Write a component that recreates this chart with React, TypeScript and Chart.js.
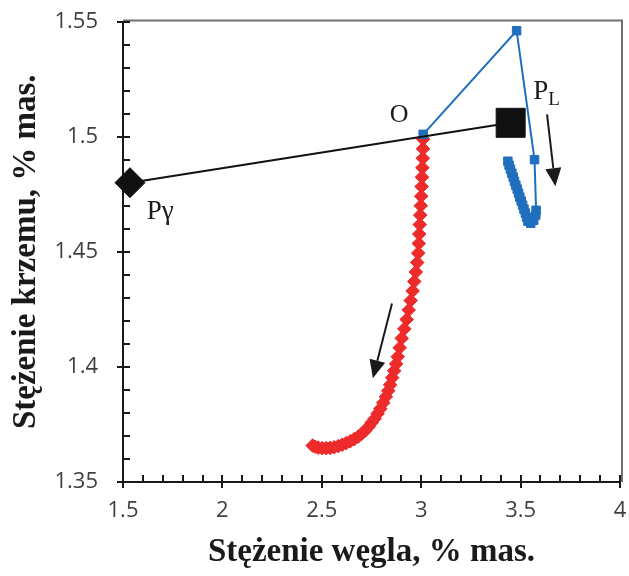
import React, { useEffect, useRef } from 'react';
import { Chart, registerables } from 'chart.js';

Chart.register(...registerables);

// ---- axis ticks ----
const xTickValues = [1.5, 2, 2.5, 3, 3.5, 4];
const yTickValues = [1.35, 1.4, 1.45, 1.5, 1.55];

// ---- black tie-line: P-gamma -> P (square) ----
const tieX = [1.535, 3.45];
const tieY = [1.48, 1.506];

// ---- blue series (liquid path) ----
const blueX = [3.01, 3.48, 3.57, 3.578, 3.576, 3.566, 3.551, 3.537, 3.530, 3.524, 3.517, 3.510, 3.503, 3.496, 3.490, 3.483, 3.476, 3.469, 3.463, 3.456, 3.449, 3.442, 3.436];
const blueY = [1.501, 1.546, 1.490, 1.468, 1.4659, 1.4637, 1.4624, 1.4633, 1.4650, 1.4668, 1.4685, 1.4702, 1.4720, 1.4737, 1.4754, 1.4772, 1.4789, 1.4806, 1.4824, 1.4841, 1.4858, 1.4876, 1.4893];

// ---- red series (austenite path) ----
const redX = [3.010, 3.009, 3.008, 3.006, 3.004, 3.002, 3.000, 2.998, 2.995, 2.993, 2.990, 2.988, 2.985, 2.980, 2.973, 2.965, 2.957, 2.947, 2.937, 2.927, 2.915, 2.902,
  2.892, 2.882, 2.874, 2.864, 2.854, 2.844, 2.834, 2.822, 2.809, 2.794, 2.781, 2.766, 2.751, 2.736, 2.718, 2.701, 2.683, 2.663, 2.643, 2.623, 2.603, 2.583, 2.562, 2.542, 2.522, 2.502, 2.482, 2.467, 2.454];
const redY = [1.4989, 1.4947, 1.4906, 1.4865, 1.4824, 1.4783, 1.4741, 1.4700, 1.4659, 1.4618, 1.4577, 1.4536, 1.4494, 1.4453, 1.4412, 1.4371, 1.4330, 1.4288, 1.4247, 1.4206, 1.4165, 1.4124,
  1.4083, 1.4044, 1.4013, 1.3983, 1.3953, 1.3922, 1.3896, 1.3870, 1.3844, 1.3818, 1.3797, 1.3775, 1.3758, 1.3740, 1.3723, 1.3710, 1.3697, 1.3686, 1.3677, 1.3669, 1.3662, 1.3656, 1.3651, 1.3648, 1.3647, 1.3647, 1.3649, 1.3653, 1.3658];

// ---- annotations (data coordinates) ----
const labelO = { text: 'O', x: 2.889, y: 1.5093 };
const labelPL = { main: 'P', sub: 'L', x: 3.564, y: 1.5162 };
const labelPg = { text: 'Pγ', x: 1.62, y: 1.4642 };
const arrowPL = { x1: 3.633, y1: 1.5097, x2: 3.675, y2: 1.4785 };
const arrowRed = { x1: 2.853, y1: 1.4275, x2: 2.757, y2: 1.3951 };

const xTitle = 'Stężenie węgla, % mas.';
const yTitle = 'Stężenie krzemu, % mas.';

const RIGHT_GAP = 9;

const toPts = (xs: number[], ys: number[]) => xs.map((x, i) => ({ x, y: ys[i] }));
const fmt = (v: number) => String(Math.round(Number(v) * 100) / 100);

const decorPlugin = {
  id: 'decor',
  afterLayout(chart: any) {
    const a = chart.chartArea;
    const target = chart.width - RIGHT_GAP;
    if (Math.abs(a.right - target) > 0.5) {
      a.right = target;
      a.width = a.right - a.left;
      const x = chart.scales.x;
      x.right = target;
      x.width = x.right - x.left;
      x.configure();
    }
  },
  beforeDatasetsDraw(chart: any) {
    const { ctx, chartArea: a, scales } = chart;
    const x = scales.x;
    const y = scales.y;
    ctx.save();
    // frame (top & right)
    ctx.strokeStyle = '#707070';
    ctx.lineWidth = 2;
    ctx.beginPath();
    ctx.moveTo(a.left, a.top - 1);
    ctx.lineTo(a.right + 2, a.top - 1);
    ctx.lineTo(a.right + 2, a.bottom);
    ctx.stroke();
    // axes
    ctx.strokeStyle = '#1a1a1a';
    ctx.lineWidth = 2;
    ctx.beginPath();
    ctx.moveTo(a.left, a.top);
    ctx.lineTo(a.left, a.bottom);
    ctx.lineTo(a.right, a.bottom);
    // x ticks (minor 0.1, major 0.5)
    for (let i = 0; i <= 25; i++) {
      const px = Math.round(x.getPixelForValue(1.5 + i * 0.1));
      const major = i % 5 === 0;
      ctx.moveTo(px, a.bottom - 7);
      ctx.lineTo(px, major ? a.bottom + 6 : a.bottom);
    }
    // y ticks (minor 0.01, major 0.05)
    for (let i = 0; i <= 20; i++) {
      const py = Math.round(y.getPixelForValue(1.35 + i * 0.01));
      const major = i % 5 === 0;
      ctx.moveTo(a.left + 7, py);
      ctx.lineTo(major ? a.left - 6 : a.left, py);
    }
    ctx.stroke();
    ctx.restore();
  },
  afterDatasetsDraw(chart: any) {
    const { ctx, scales } = chart;
    const x = scales.x;
    const y = scales.y;
    ctx.save();
    const arrow = (ar: any) => {
      const x1 = x.getPixelForValue(ar.x1), y1 = y.getPixelForValue(ar.y1);
      const x2 = x.getPixelForValue(ar.x2), y2 = y.getPixelForValue(ar.y2);
      const ang = Math.atan2(y2 - y1, x2 - x1);
      const hl = 18, hw = 8;
      const bx = x2 - hl * Math.cos(ang), by = y2 - hl * Math.sin(ang);
      ctx.strokeStyle = '#1a1a1a';
      ctx.fillStyle = '#1a1a1a';
      ctx.lineWidth = 2;
      ctx.beginPath();
      ctx.moveTo(x1, y1);
      ctx.lineTo(bx, by);
      ctx.stroke();
      ctx.beginPath();
      ctx.moveTo(x2, y2);
      ctx.lineTo(bx + hw * Math.sin(ang), by - hw * Math.cos(ang));
      ctx.lineTo(bx - hw * Math.sin(ang), by + hw * Math.cos(ang));
      ctx.closePath();
      ctx.fill();
    };
    arrow(arrowPL);
    arrow(arrowRed);

    ctx.fillStyle = '#1a1a1a';
    ctx.font = '26px "Liberation Serif"';
    ctx.textAlign = 'center';
    ctx.textBaseline = 'middle';
    ctx.fillText(labelO.text, x.getPixelForValue(labelO.x), y.getPixelForValue(labelO.y));

    ctx.textAlign = 'left';
    ctx.textBaseline = 'alphabetic';
    ctx.font = '27px "Liberation Serif"';
    const plx = x.getPixelForValue(labelPL.x), ply = y.getPixelForValue(labelPL.y);
    ctx.fillText(labelPL.main, plx, ply);
    const pw = ctx.measureText(labelPL.main).width;
    ctx.font = '19px "Liberation Serif"';
    ctx.fillText(labelPL.sub, plx + pw, ply + 6);

    ctx.font = '27px "Liberation Serif"';
    ctx.fillText(labelPg.text, x.getPixelForValue(labelPg.x), y.getPixelForValue(labelPg.y));
    ctx.restore();
  },
};

export default function App() {
  const ref = useRef<HTMLCanvasElement | null>(null);
  useEffect(() => {
    if (!ref.current) return;
    const chart = new Chart(ref.current, {
      type: 'scatter',
      data: {
        datasets: [
          {
            data: toPts(tieX, tieY),
            showLine: true,
            borderColor: '#111111',
            backgroundColor: '#111111',
            borderWidth: 2,
            pointStyle: ['rectRot', 'rect'] as any,
            pointRadius: [15, 20.5] as any,
            pointBorderWidth: 1,
            order: 1,
            clip: false as any,
          },
          {
            data: toPts(blueX, blueY),
            showLine: true,
            borderColor: '#1f6fbd',
            backgroundColor: '#1f6fbd',
            borderWidth: 2,
            pointStyle: 'rect',
            pointRadius: 6,
            pointBorderWidth: 1,
            order: 2,
            clip: false as any,
          },
          {
            data: toPts(redX, redY),
            showLine: false,
            borderColor: '#ed2b2b',
            backgroundColor: '#ed2b2b',
            pointStyle: 'rectRot',
            pointRadius: 6.8,
            pointBorderWidth: 1,
            order: 3,
            clip: false as any,
          },
        ],
      },
      options: {
        animation: false,
        responsive: false,
        devicePixelRatio: 1,
        layout: { padding: { top: 20, right: RIGHT_GAP, left: 0, bottom: 0 } },
        plugins: { legend: { display: false }, tooltip: { enabled: false } },
        scales: {
          x: {
            type: 'linear',
            min: 1.5,
            max: 4,
            afterBuildTicks: (s: any) => { s.ticks = xTickValues.map((v) => ({ value: v })); },
            afterFit: (s: any) => { s.height = 94; s.paddingLeft = 0; s.paddingRight = 0; },
            grid: { display: false, drawTicks: false },
            border: { display: false },
            ticks: {
              padding: 0,
              color: '#404040',
              font: { family: '"Open Sans"', size: 22, lineHeight: 2.64 },
              maxRotation: 0,
              callback: (v: any) => fmt(v),
            },
            title: {
              display: true,
              text: xTitle,
              color: '#1a1a1a',
              font: { family: '"Liberation Serif"', size: 33, weight: 'bold' },
              padding: { top: 0, bottom: 4 },
            },
          },
          y: {
            type: 'linear',
            min: 1.35,
            max: 1.55,
            afterBuildTicks: (s: any) => { s.ticks = yTickValues.map((v) => ({ value: v })); },
            afterFit: (s: any) => { s.width = 123; s.paddingTop = 0; s.paddingBottom = 0; },
            grid: { display: false, drawTicks: false },
            border: { display: false },
            ticks: {
              padding: 25,
              color: '#404040',
              font: { family: '"Open Sans"', size: 22 },
              callback: (v: any) => fmt(v),
            },
            title: {
              display: true,
              text: yTitle,
              color: '#1a1a1a',
              font: { family: '"Liberation Serif"', size: 33, weight: 'bold' },
              padding: { top: 7, bottom: 0 },
            },
          },
        },
      },
      plugins: [decorPlugin],
    });
    return () => chart.destroy();
  }, []);
  return (
    <div style={{ position: 'absolute', left: 0, top: 0, width: 629, height: 576, background: '#fff' }}>
      <canvas ref={ref} width={629} height={576} />
    </div>
  );
}
